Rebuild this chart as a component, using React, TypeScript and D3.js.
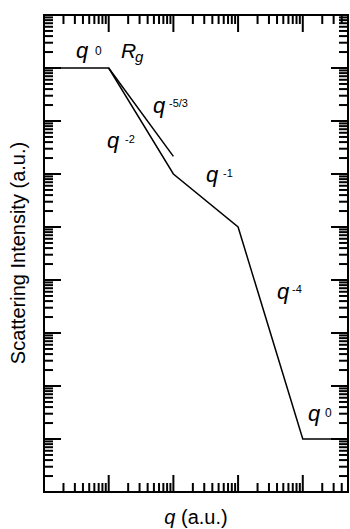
import React from "react";
import * as d3 from "d3";

const curveQ = [1, 10, 100, 1000, 10000, 50000];
const curveI = [1e8, 1e8, 1e6, 1e5, 1e1, 1e1];
const kolmoQ = [10, 100];
const kolmoI = [1e8, 2.154e6];

const xDomain = [1, 5e4];
const yDomain = [1, 1e9];

const W = 350, H = 529;
const L = 44, R = 348, T = 15, B = 492;

export default function App() {
  const x = d3.scaleLog().domain(xDomain).range([L, R]);
  const y = d3.scaleLog().domain(yDomain).range([B, T]);
  const line = d3.line<[number, number]>().x(d => x(d[0])).y(d => y(d[1]));
  const curve = curveQ.map((q, k) => [q, curveI[k]] as [number, number]);
  const kolmo = kolmoQ.map((q, k) => [q, kolmoI[k]] as [number, number]);

  const xt = x.ticks(40).filter(v => v >= xDomain[0] && v <= xDomain[1]);
  const yt = y.ticks(90).filter(v => v >= yDomain[0] && v <= yDomain[1]);
  const isMajor = (v: number) => Math.abs(Math.log10(v) - Math.round(Math.log10(v))) < 1e-9;
  const MJ = 17, MN = 9;

  const font = "Arial, 'Liberation Sans', Helvetica, sans-serif";
  const qLab = (qx: number, qy: number, sup: string, sx: number, sy: number, supSize = 11) => (
    <g>
      <text x={qx} y={qy} fontSize={22} fontStyle="italic">q</text>
      <text x={sx} y={sy} fontSize={supSize}>{sup}</text>
    </g>
  );

  return (
    <svg width={W} height={H} style={{ position: "absolute", left: 0, top: 0 }} fontFamily={font}>
      <rect width={W} height={H} fill="white" />
      <g stroke="black" strokeWidth={2}>
        {xt.map((v, k) => {
          const len = isMajor(v) ? MJ : MN;
          const px = x(v);
          return (
            <g key={"x" + k}>
              <line x1={px} x2={px} y1={B} y2={B - len} />
              <line x1={px} x2={px} y1={T} y2={T + len} />
            </g>
          );
        })}
        {yt.map((v, k) => {
          const len = isMajor(v) ? MJ : MN;
          const py = y(v);
          return (
            <g key={"y" + k}>
              <line x1={L} x2={L + len} y1={py} y2={py} />
              <line x1={R} x2={R - len} y1={py} y2={py} />
            </g>
          );
        })}
      </g>
      <rect x={L} y={T} width={R - L} height={B - T} fill="none" stroke="black" strokeWidth={2} />
      <path d={line(curve) || ""} fill="none" stroke="black" strokeWidth={1.5} />
      <path d={line(kolmo) || ""} fill="none" stroke="black" strokeWidth={1.5} />

      {qLab(76, 58, "0", 95, 55, 12)}
      <text x={121} y={58} fontSize={21} fontStyle="italic">R</text>
      <text x={135} y={62} fontSize={15} fontStyle="italic">g</text>
      {qLab(153, 113, "-5/3", 169, 107)}
      {qLab(107, 148, "-2", 125, 143)}
      {qLab(206, 182, "-1", 223, 177)}
      {qLab(277, 299, "-4", 292, 293)}
      {qLab(308, 421, "0", 325, 417, 12)}

      <text transform="translate(25,253) rotate(-90)" textAnchor="middle" fontSize={20}>Scattering Intensity (a.u.)</text>
      <text x={196} y={524} textAnchor="middle" fontSize={20}>
        <tspan fontStyle="italic">q</tspan> (a.u.)
      </text>
    </svg>
  );
}
